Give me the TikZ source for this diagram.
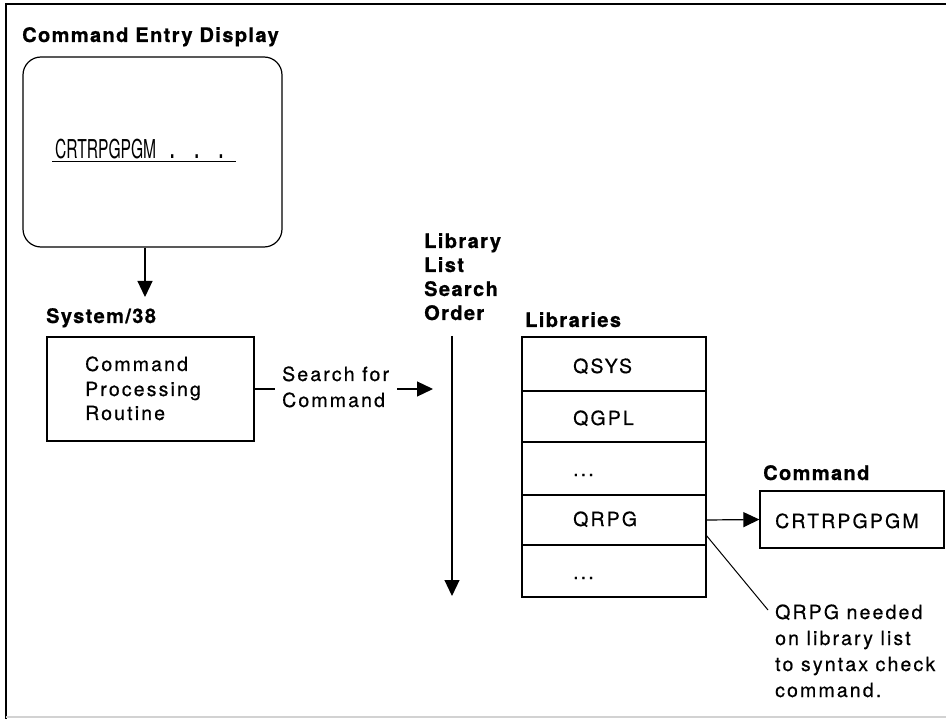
\documentclass[tikz,border=0pt]{standalone}
\usepackage{fontspec}
\usetikzlibrary{arrows.meta}
\newfontfamily\rgfont[LetterSpace=11,FakeBold=0.5]{TeX Gyre Heros}
\newfontfamily\bdfont[LetterSpace=7,FakeBold=0.8]{TeX Gyre Heros}
\newfontfamily\cdfont[FakeStretch=0.6]{TeX Gyre Heros}
\tikzset{
  ttl/.style={font=\bdfont\bfseries\fontsize{20}{24}\selectfont, anchor=base west, inner sep=0pt},
  txt/.style={font=\rgfont\fontsize{19.5}{24}\selectfont, anchor=base west, inner sep=0pt},
  box/.style={draw, line width=1.2pt, inner sep=0pt},
  arr/.style={line width=1.2pt, -{Triangle[length=16pt,width=15pt]}},
  thinln/.style={line width=1pt}
}
\begin{document}
\begin{tikzpicture}[x=1pt,y=-1pt]
\useasboundingbox (0,0) rectangle (946,719);
% frame
\draw[line width=2pt] (6,719) -- (6,4) -- (946,4);
\draw[gray!35, line width=1.5pt] (6,717) -- (946,717);

% command entry display
\node[ttl] (tdisp) at (22,42) {Command Entry Display};
\node[box, rounded corners=18pt, minimum width=259pt, minimum height=190pt] (disp) at (152.5,152) {};
\node[font=\cdfont\fontsize{26}{30}\selectfont, anchor=base west, inner sep=0pt] (crt) at (55,159)
  {CRTRPGPGM\hspace{14pt}\textbf{.}\hspace{20pt}\textbf{.}\hspace{20pt}\textbf{.}};
\draw[thinln] (52,162) -- (236,162);

% arrow to System/38
\coordinate (sysTop) at (145,297);
\draw[arr] (disp.south -| sysTop) -- (sysTop);

% System/38
\node[ttl] (tsys) at (46,323) {System/38};
\node[box, minimum width=207pt, minimum height=104pt] (cpr) at (150.5,389) {};
\node[txt] (cpr1) at (85,371) {Command};
\node[txt] (cpr2) at (85,396) {Processing};
\node[txt] (cpr3) at (85,420) {Routine};

% search for command
\coordinate (sfa) at (275,389);
\draw[line width=1.2pt] (cpr.east) -- (sfa);
\node[txt] (sf1) at (282,381) {Search for};
\node[txt] (sf2) at (282,407) {Command};
\coordinate (a2s) at (397,389);
\coordinate (a2e) at (433,389);
\draw[arr] (a2s) -- (a2e);

% library list search order
\node[ttl] (lo1) at (424,248) {Library};
\node[ttl] (lo2) at (424,272) {List};
\node[ttl] (lo3) at (424,296) {Search};
\node[ttl] (lo4) at (424,320) {Order};
\coordinate (soTop) at (452,336);
\coordinate (soBot) at (452,596);
\draw[arr] (soTop) -- (soBot);

% libraries
\node[ttl] (tlib) at (525,327) {Libraries};
\node[box, minimum width=184pt, minimum height=54pt] (row1) at (614,364) {};
\node[box, minimum width=184pt, minimum height=51pt] (row2) at (614,416.5) {};
\node[box, minimum width=184pt, minimum height=53pt] (row3) at (614,468.5) {};
\node[box, minimum width=184pt, minimum height=50pt] (row4) at (614,520) {};
\node[box, minimum width=184pt, minimum height=52pt] (row5) at (614,571) {};
\node[txt] (l1) at (573,373) {QSYS};
\node[txt] (l2) at (573,425) {QGPL};
\node[txt] (l3) at (573,476) {...};
\node[txt] (l4) at (573,526) {QRPG};
\node[txt] (l5) at (573,579) {...};

% command
\node[ttl] (tcmd) at (763,480) {Command};
\node[box, minimum width=184pt, minimum height=57pt] (cmdbox) at (852,519.5) {};
\node[txt] (cmdtxt) at (775,528) {CRTRPGPGM};
\draw[arr] (row4.east) -- (cmdbox.west);

% note
\coordinate (ns) at (706,535);
\coordinate (ne) at (768,610);
\draw[thinln] (ns) -- (ne);
\node[txt] (n1) at (775,619) {QRPG needed};
\node[txt] (n2) at (775,645) {on library list};
\node[txt] (n3) at (775,671) {to syntax check};
\node[txt] (n4) at (775,697) {command.};
\end{tikzpicture}
\end{document}
